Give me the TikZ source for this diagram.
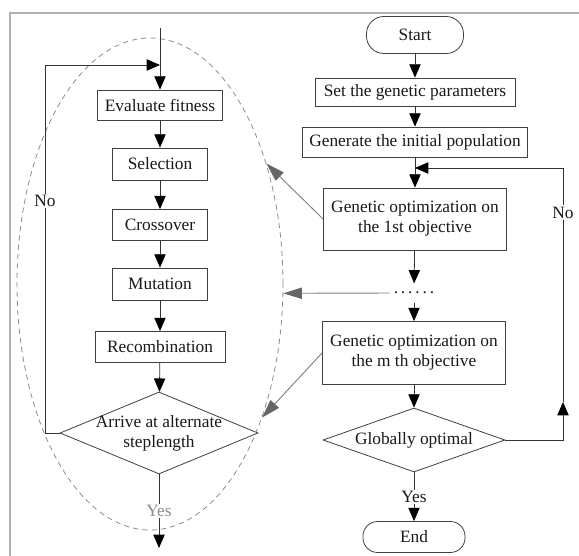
\documentclass[tikz,border=0pt]{standalone}
\usepackage{fontspec}
\setmainfont{Liberation Serif}
\usetikzlibrary{shapes.geometric,arrows.meta}
\begin{document}
\begin{tikzpicture}[x=0.75pt,y=-0.75pt,
  font=\fontsize{13}{15}\selectfont,
  every node/.style={text=black!90},
  box/.style={draw=black!75,line width=0.6pt,rectangle,inner sep=2pt,align=center,fill=white},
  term/.style={box,rounded corners=11pt},
  decision/.style={draw=black!75,line width=0.6pt,diamond,inner sep=0pt,fill=white},
  lbl/.style={fill=white,inner sep=1pt},
  arr/.style={draw=black!80,line width=0.6pt,-{Triangle[length=10pt,width=8.5pt,black]}},
  garr/.style={draw=black!50,line width=0.7pt,-{Triangle[length=14pt,width=8.5pt,black!60]}},
  loopell/.style={draw=black!45,ellipse,line width=0.6pt,dash pattern=on 4pt off 3pt}]
\useasboundingbox (0,0) rectangle (579,556);
\draw[black!30,line width=0.8pt] (10,556) -- (10,13) -- (579,13);
\node[loopell,minimum width=199.5pt,minimum height=369pt] (ell) at (150,284) {};

\node[box,minimum width=93.75pt,minimum height=22.5pt] (eval) at (160,105) {Evaluate fitness};
\node[box,minimum width=71.25pt,minimum height=24pt] (sel) at (160,164) {Selection};
\node[box,minimum width=71.25pt,minimum height=23.25pt] (cross) at (160,225) {Crossover};
\node[box,minimum width=71.25pt,minimum height=24pt] (mut) at (160,284) {Mutation};
\node[box,minimum width=97.5pt,minimum height=23.25pt] (recomb) at (160,347) {Recombination};
\node[decision,minimum width=148.5pt,minimum height=61.5pt] (arrive) at (159,433) {};
\node[align=center,inner sep=0pt] (arrivetxt) at (159,433) {Arrive at alternate\\steplength};

\node[term,rounded corners=13pt,minimum width=72.75pt,minimum height=27.75pt] (start) at (415,35) {Start};
\node[box,minimum width=150pt,minimum height=21pt] (params) at (415,92) {Set the genetic parameters};
\node[box,minimum width=168.75pt,minimum height=22.5pt] (init) at (415,142) {Generate the initial population};
\node[box,minimum width=137.25pt,minimum height=46.5pt] (opt1) at (415,219) {Genetic optimization on\\the 1st objective};
\node[minimum height=14pt,inner sep=3pt] (dots) at (414,293) {.\,.\,.\,.\,.\,.};
\node[box,minimum width=137.25pt,minimum height=47.25pt] (optm) at (414,353) {Genetic optimization on\\the m th objective};
\node[decision,aspect=2.84,minimum width=136.5pt,minimum height=48pt] (global) at (414,440) {Globally optimal};
\node[term,minimum width=76.5pt,minimum height=23.25pt] (end) at (414,537) {End};

\coordinate (entry) at (160,28);
\coordinate (lbot) at (45,433);
\coordinate (ltop) at (45,65);
\coordinate (ljoin) at (160,65);
\coordinate (exit) at (159,548);
\coordinate (rbot) at (563,440);
\coordinate (rmid) at (563,402);
\coordinate (rtop) at (563,168);
\coordinate (rjoin) at (415,168);

\draw[arr] (entry) -- (eval);
\draw[arr] (eval) -- (sel);
\draw[arr] (sel) -- (cross);
\draw[arr] (cross) -- (mut);
\draw[arr] (mut) -- (recomb);
\draw[arr] (recomb) -- (arrive);
\draw[arr] (arrive.west) -- (lbot) -- node[lbl,pos=0.63]{No} (ltop) -- (ljoin);
\draw[arr] (arrive.south) -- node[lbl,text=black!45]{Yes} (exit);

\draw[arr] (start) -- (params);
\draw[arr] (params) -- (init);
\draw[arr] (init) -- (opt1);
\draw[arr] (opt1) -- (dots);
\draw[arr] (dots) -- (optm);
\draw[arr] (optm) -- (global);
\draw[arr] (global) -- node[lbl]{Yes} (end);
\draw[arr] (global.east) -- (rbot) -- (rmid);
\draw[arr] (rmid) -- node[lbl,pos=0.81]{No} (rtop) -- (rjoin);

\draw[garr] (opt1.west) -- (ell.46);
\draw[garr] (dots.west) -- (ell.-4);
\draw[garr] (optm.west) -- (ell.-50);
\end{tikzpicture}
\end{document}
